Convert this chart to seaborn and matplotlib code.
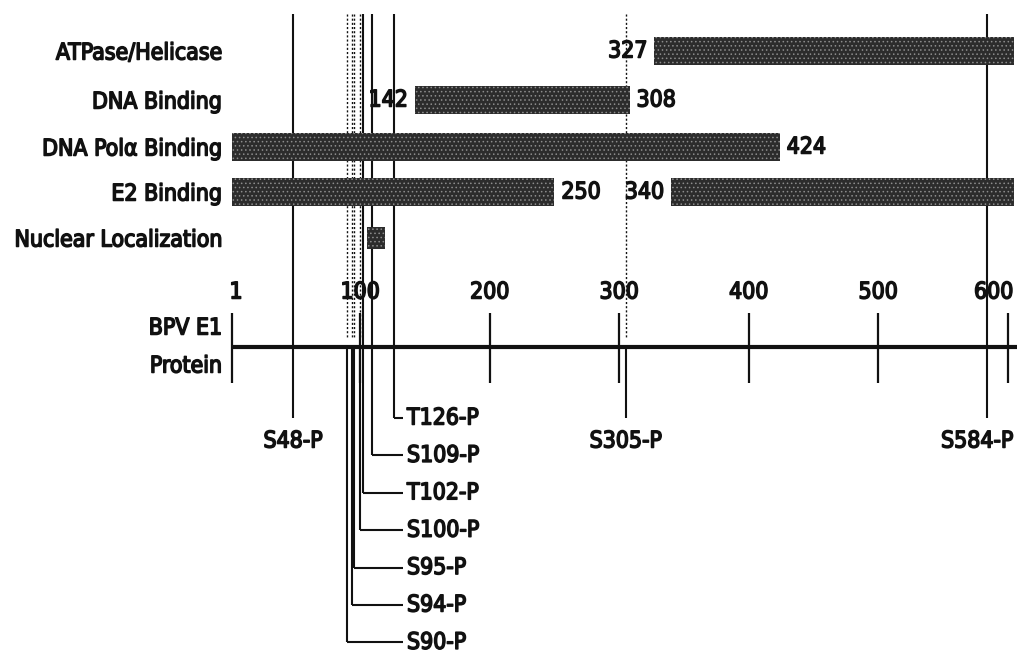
import matplotlib
matplotlib.use("Agg")
import matplotlib.pyplot as plt
import matplotlib.patheffects as pe
import seaborn as sns

# BPV E1 protein map
protein_length = 605
tick_values = [1, 100, 200, 300, 400, 500, 600]

domain_names = ["ATPase/Helicase", "DNA Binding", "DNA Polα Binding",
                "E2 Binding", "Nuclear Localization"]
domain_segments = [
    [(327, 605)],
    [(142, 308)],
    [(1, 424)],
    [(1, 250), (340, 605)],
    [(105, 119)],
]
show_bounds = [True, True, True, True, False]

site_names = ["S48-P", "S90-P", "S94-P", "S95-P", "S100-P",
              "T102-P", "S109-P", "T126-P", "S305-P", "S584-P"]
site_positions = [48, 90, 94, 95, 100, 102, 109, 126, 305, 584]
cluster_sites = ["S90-P", "S94-P", "S95-P", "S100-P", "T102-P", "S109-P", "T126-P"]
dotted_above = ["S90-P", "S94-P", "S95-P", "S100-P", "S305-P"]

sns.set_theme(style="white")
plt.rcParams["font.family"] = ["DejaVu Sans"]
plt.rcParams["font.stretch"] = "condensed"
plt.rcParams["hatch.color"] = "#8c8c8c"
plt.rcParams["hatch.linewidth"] = 0.6

fig = plt.figure(figsize=(10.17, 6.55), dpi=100)
ax = fig.add_axes([0, 0, 1, 1])

# pixel layout: residue 1 at x=232, 1.295 px per residue, y in pixels
px = 1.295
ax.set_xlim(1 - 232 / px, 1 + 785 / px)
ax.set_ylim(655, 0)
ax.axis("off")

ink = "#111111"
txt = dict(fontsize=16.5, color=ink,
           path_effects=[pe.withStroke(linewidth=1.1, foreground=ink)])
bar_rows = [51, 100, 147, 192, 238]
lab_x = 1 - 10 / px

# domains
for i, name in enumerate(domain_names):
    y = bar_rows[i]
    h = 22 if not show_bounds[i] else 28
    for start, end in domain_segments[i]:
        ax.barh(y, end - start, left=start, height=h, color="#2c2c2c",
                edgecolor="#8c8c8c", linewidth=0, hatch="....", zorder=2)
        if show_bounds[i]:
            if start > 1:
                ax.annotate(str(start), (start, y), xytext=(-5, 0),
                            textcoords="offset points", ha="right", va="center", **txt)
            if end < protein_length:
                ax.annotate(str(end), (end, y), xytext=(5, 0),
                            textcoords="offset points", ha="left", va="center", **txt)
    ax.text(lab_x, y + 2, name, ha="right", va="center", **txt)

# protein axis
axis_y = 347
ax.hlines(axis_y, 1, ax.get_xlim()[1], color=ink, lw=3, zorder=3)
ax.vlines(tick_values, 313, 383, color=ink, lw=1.6, zorder=3)
for t in tick_values:
    off = -14 if t == 600 else (4 if t == 1 else 0)
    ax.annotate(str(t), (t, 292), xytext=(off, 0), textcoords="offset pixels",
                ha="center", va="center", **txt)
ax.text(lab_x, 328, "BPV E1", ha="right", va="center", **txt)
ax.text(lab_x, 366, "Protein", ha="right", va="center", **txt)

# phosphorylation sites
elbow_x = 1 + (403 - 232) / px
cluster_order = sorted(cluster_sites, key=lambda s: -site_positions[site_names.index(s)])
for name, pos in zip(site_names, site_positions):
    if name in dotted_above:
        ax.vlines(pos, 14, axis_y - 10, color=ink, lw=1.0, ls=(0, (1.5, 1.5)), zorder=1)
    else:
        ax.vlines(pos, 14, axis_y, color=ink, lw=1.5, zorder=1)
    if name in cluster_order:
        k = cluster_order.index(name)
        yk = 418 + k * 37.4
        ax.vlines(pos, axis_y, yk, color=ink, lw=1.5, zorder=1)
        ax.hlines(yk, pos, elbow_x, color=ink, lw=1.5, zorder=1)
        ax.annotate(name, (elbow_x, yk), xytext=(4, 0), textcoords="offset pixels",
                    ha="left", va="center", **txt)
    else:
        ax.vlines(pos, axis_y, 418, color=ink, lw=1.5, zorder=1)
        off = -10 if pos > 550 else 0
        ax.annotate(name, (pos, 441), xytext=(off, 0), textcoords="offset pixels",
                    ha="center", va="center", **txt)

fig.savefig("out.png", dpi=100)
